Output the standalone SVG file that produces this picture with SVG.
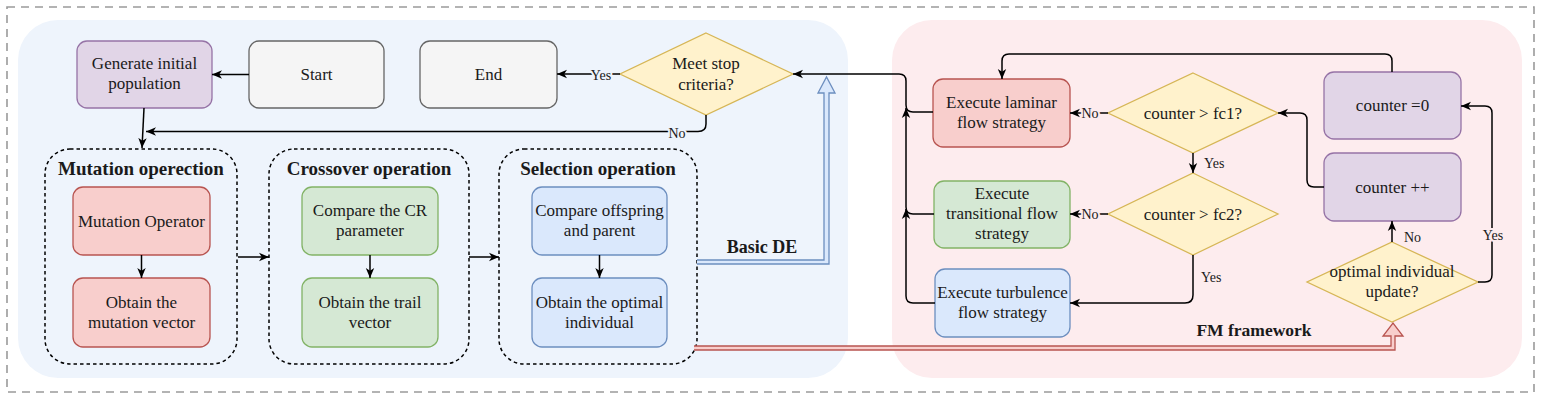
<svg xmlns="http://www.w3.org/2000/svg" width="1551" height="403" viewBox="0 0 1551 403">
<style>
text{font-family:"Liberation Serif","Times New Roman",serif;fill:#1a1a1a;}
.t{font-size:17px;text-anchor:middle;}
.ti{font-size:19px;font-weight:bold;text-anchor:middle;}
.lb{font-size:14px;}
.lbb{font-size:14px;paint-order:stroke;stroke-width:4px;stroke-linejoin:round;}
.c{fill:none;stroke:#000;stroke-width:1.5;}
.grp{fill:none;stroke:#000;stroke-width:1.5;stroke-dasharray:3.5 3;}
.red{fill:#f8cecc;stroke:#b85450;stroke-width:1.3;}
.grn{fill:#d5e8d4;stroke:#82b366;stroke-width:1.3;}
.blu{fill:#dae8fc;stroke:#6c8ebf;stroke-width:1.3;}
.pur{fill:#e1d5e7;stroke:#9673a6;stroke-width:1.3;}
.gry{fill:#f5f5f5;stroke:#666666;stroke-width:1.3;}
.yel{fill:#fff2cc;stroke:#d6b656;stroke-width:1.3;}
</style>
<defs>
<marker id="arr" viewBox="0 0 10 10" refX="10" refY="5" markerWidth="10" markerHeight="10" orient="auto" markerUnits="userSpaceOnUse">
<path d="M0,0.8 L10,5 L0,9.2 L2.8,5 z" fill="#000"/>
</marker>
</defs>
<rect x="0" y="0" width="1551" height="403" fill="#ffffff"/>
<!-- outer dashed border -->
<rect x="7" y="7" width="1527" height="385" fill="none" stroke="#9a9a9a" stroke-width="1.6" stroke-dasharray="8 6"/>
<!-- backgrounds -->
<rect id="bg-de" x="18" y="20" width="830" height="358" rx="40" fill="#eef4fc"/>
<rect id="bg-fm" x="892" y="20" width="630" height="358" rx="40" fill="#fdecee"/>

<g id="labels">
<text x="762" y="253" style="font-size:18px;font-weight:bold;text-anchor:middle">Basic DE</text>
<text x="1254" y="336" style="font-size:17.5px;font-weight:bold;text-anchor:middle">FM framework</text>
</g>

<!-- groups -->
<g id="mutation-group">
<rect class="grp" x="45" y="149" width="192" height="215" rx="25"/>
<text class="ti" x="141" y="175">Mutation operection</text>
</g>
<g id="crossover-group">
<rect class="grp" x="269" y="149" width="200" height="215" rx="25"/>
<text class="ti" x="369" y="175">Crossover operation</text>
</g>
<g id="selection-group">
<rect class="grp" x="499" y="149" width="198" height="215" rx="25"/>
<text class="ti" x="598" y="175">Selection operation</text>
</g>

<!-- nodes -->
<g id="generate">
<rect class="pur" x="77" y="41" width="135" height="67" rx="10"/>
<text class="t" x="144.5" y="69">Generate initial</text>
<text class="t" x="144.5" y="89">population</text>
</g>
<g id="start">
<rect class="gry" x="249" y="41" width="135" height="67" rx="10"/>
<text class="t" x="316.5" y="80">Start</text>
</g>
<g id="end">
<rect class="gry" x="420" y="41" width="137" height="67" rx="10"/>
<text class="t" x="488.5" y="80">End</text>
</g>
<g id="meet-stop">
<polygon class="yel" points="706,33 793,74 706,115 620,74"/>
<text class="t" x="706" y="69">Meet stop</text>
<text class="t" x="706" y="90">criteria?</text>
</g>
<g id="mutation-operator">
<rect class="red" x="73" y="187" width="137" height="68" rx="10"/>
<text class="t" x="141.5" y="227">Mutation Operator</text>
</g>
<g id="mutation-vector">
<rect class="red" x="73" y="278" width="137" height="69" rx="10"/>
<text class="t" x="141.5" y="308">Obtain the</text>
<text class="t" x="141.5" y="328">mutation vector</text>
</g>
<g id="compare-cr">
<rect class="grn" x="302" y="187" width="136" height="68" rx="10"/>
<text class="t" x="370" y="216">Compare the CR</text>
<text class="t" x="370" y="236">parameter</text>
</g>
<g id="trail-vector">
<rect class="grn" x="302" y="278" width="136" height="69" rx="10"/>
<text class="t" x="370" y="308">Obtain the trail</text>
<text class="t" x="370" y="328">vector</text>
</g>
<g id="compare-offspring">
<rect class="blu" x="532" y="187" width="135" height="68" rx="10"/>
<text class="t" x="599.5" y="216">Compare offspring</text>
<text class="t" x="599.5" y="236">and parent</text>
</g>
<g id="optimal-individual">
<rect class="blu" x="532" y="278" width="135" height="69" rx="10"/>
<text class="t" x="599.5" y="308">Obtain the optimal</text>
<text class="t" x="599.5" y="328">individual</text>
</g>

<g id="laminar">
<rect class="red" x="933" y="79" width="137" height="68" rx="10"/>
<text class="t" x="1001.5" y="108">Execute laminar</text>
<text class="t" x="1001.5" y="128">flow strategy</text>
</g>
<g id="transitional">
<rect class="grn" x="934" y="181" width="136" height="67" rx="10"/>
<text class="t" x="1002" y="199">Execute</text>
<text class="t" x="1002" y="219">transitional flow</text>
<text class="t" x="1002" y="239">strategy</text>
</g>
<g id="turbulence">
<rect class="blu" x="935" y="269" width="135" height="68" rx="10"/>
<text class="t" x="1002.5" y="298">Execute turbulence</text>
<text class="t" x="1002.5" y="318">flow strategy</text>
</g>
<g id="fc1">
<polygon class="yel" points="1193,73 1278,113 1193,153 1108,113"/>
<text class="t" x="1193" y="119">counter &gt; fc1?</text>
</g>
<g id="fc2">
<polygon class="yel" points="1193,173 1278,214 1193,255 1108,214"/>
<text class="t" x="1193" y="220">counter &gt; fc2?</text>
</g>
<g id="counter-zero">
<rect class="pur" x="1324" y="72" width="137" height="67" rx="10"/>
<text class="t" x="1392.5" y="111">counter =0</text>
</g>
<g id="counter-inc">
<rect class="pur" x="1324" y="153" width="137" height="68" rx="10"/>
<text class="t" x="1392.5" y="193">counter ++</text>
</g>
<g id="opt-update">
<polygon class="yel" points="1392,242 1478,282 1392,322 1307,282"/>
<text class="t" x="1392" y="277">optimal individual</text>
<text class="t" x="1392" y="297">update?</text>
</g>

<!-- connectors -->
<g id="connectors">
<path class="c" d="M249,74.5 H212" marker-end="url(#arr)"/>
<path class="c" d="M620,74 H557" marker-end="url(#arr)"/>
<path class="c" d="M706,115 V124 Q706,131.5 698,131.5 H146" marker-end="url(#arr)"/>
<path class="c" d="M144,108 L142,148" marker-end="url(#arr)"/>
<path class="c" d="M141.5,255 V278" marker-end="url(#arr)"/>
<path class="c" d="M370,255 V278" marker-end="url(#arr)"/>
<path class="c" d="M599.5,255 V278" marker-end="url(#arr)"/>
<path class="c" d="M238,257 H269" marker-end="url(#arr)"/>
<path class="c" d="M469,257 H499" marker-end="url(#arr)"/>
<!-- Basic DE double arrow -->
<path d="M697,260 H824 V93 H818 L826.5,77 L835,93 H829 V264 H697" fill="#dae8fc" stroke="#6c8ebf" stroke-width="1.3" stroke-linejoin="miter"/>
<!-- FM double arrow -->
<path d="M694,346 H1391 V336 H1383 L1393,323 L1403,336 H1395 V350 H694" fill="#f8cecc" stroke="#b85450" stroke-width="1.3"/>
<!-- FM side -->
<path class="c" d="M933,112 H913 Q906,112 906,105 V81 Q906,74 899,74 H793" marker-end="url(#arr)"/>
<path class="c" d="M934,214 H913 Q906,214 906,207 V108" marker-end="url(#arr)"/>
<path class="c" d="M935,303 H913 Q906,303 906,296 V209" marker-end="url(#arr)"/>
<path class="c" d="M1108,113 H1070" marker-end="url(#arr)"/>
<path class="c" d="M1108,214 H1070" marker-end="url(#arr)"/>
<path class="c" d="M1193,153 V173" marker-end="url(#arr)"/>
<path class="c" d="M1193,255 V295 Q1193,303 1185,303 H1070" marker-end="url(#arr)"/>
<path class="c" d="M1324,187 H1314 Q1307,187 1307,180 V120 Q1307,113 1300,113 H1278" marker-end="url(#arr)"/>
<path class="c" d="M1392,72 V61 Q1392,54 1385,54 H1009 Q1002,54 1002,61 V79" marker-end="url(#arr)"/>
<path class="c" d="M1392,242 V221" marker-end="url(#arr)"/>
<path class="c" d="M1478,282 H1485 Q1492,282 1492,275 V113 Q1492,106 1485,106 H1461" marker-end="url(#arr)"/>
<!-- edge labels -->
<text class="lbb" x="601" y="80" text-anchor="middle" stroke="#eef4fc">Yes</text>
<text class="lbb" x="677" y="138" text-anchor="middle" stroke="#eef4fc">No</text>
<text class="lbb" x="1090" y="118" text-anchor="middle" stroke="#fdecee">No</text>
<text class="lbb" x="1090" y="219" text-anchor="middle" stroke="#fdecee">No</text>
<text class="lb" x="1204" y="168">Yes</text>
<text class="lb" x="1201" y="282">Yes</text>
<text class="lb" x="1404" y="242">No</text>
<text class="lbb" x="1493" y="240" text-anchor="middle" stroke="#fdecee">Yes</text>
</g>
</svg>
